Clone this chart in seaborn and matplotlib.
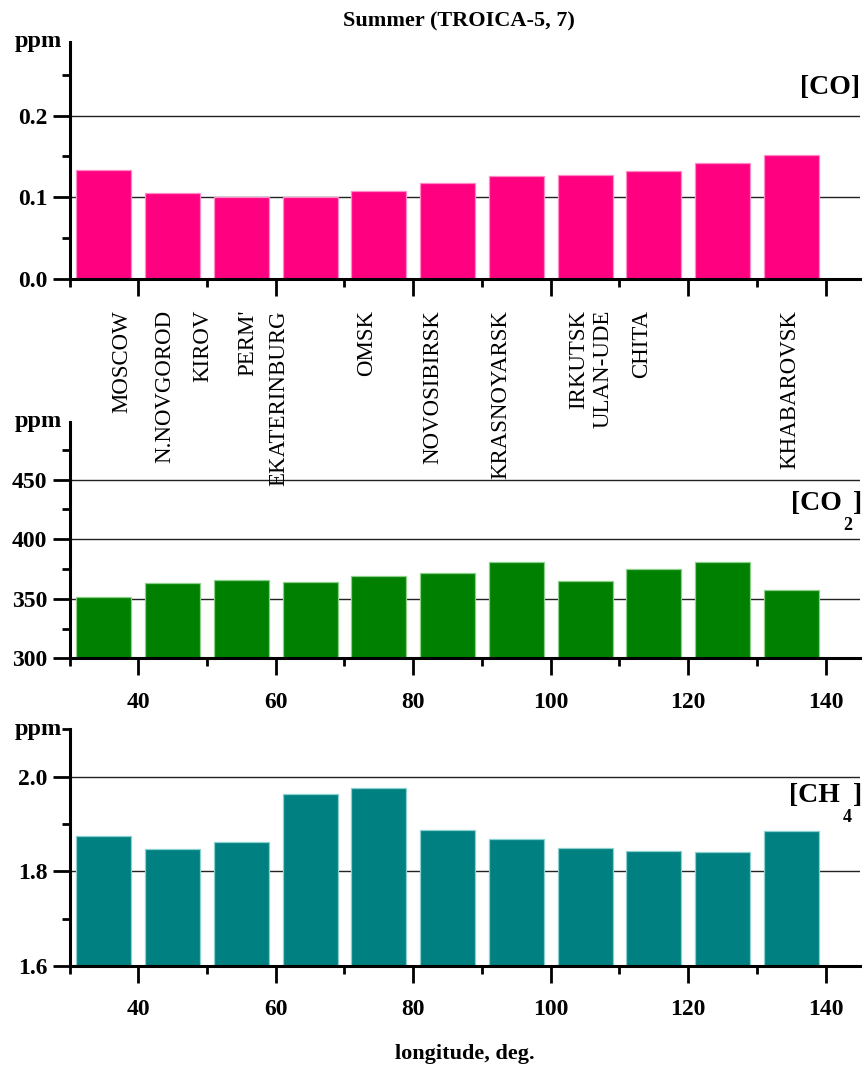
import numpy as np
import pandas as pd
import matplotlib
matplotlib.use("Agg")
import matplotlib.pyplot as plt
import matplotlib.transforms as mtransforms
from matplotlib.ticker import MultipleLocator, NullFormatter, FuncFormatter
import seaborn as sns

# Station longitudes (bar centres) and mean summer concentrations
longitude = [35, 45, 55, 65, 75, 85, 95, 105, 115, 125, 135]
co_ppm = [0.133, 0.105, 0.100, 0.100, 0.108, 0.117, 0.126, 0.127, 0.132, 0.142, 0.152]
co2_ppm = [351.6, 363.4, 365.6, 364.0, 368.7, 371.5, 380.5, 364.8, 374.6, 380.8, 357.5]
ch4_ppm = [1.874, 1.848, 1.862, 1.964, 1.976, 1.888, 1.868, 1.849, 1.842, 1.840, 1.885]

# Cities along the route and their longitudes
cities = ["MOSCOW", "N.NOVGOROD", "KIROV", "PERM'", "EKATERINBURG", "OMSK",
          "NOVOSIBIRSK", "KRASNOYARSK", "IRKUTSK", "ULAN-UDE", "CHITA", "KHABAROVSK"]
city_lon = [37.6, 43.8, 49.4, 56.0, 60.4, 73.2, 82.8, 92.8, 104.1, 107.6, 113.3, 134.8]

df = pd.DataFrame({"lon": longitude, "co": co_ppm, "co2": co2_ppm, "ch4": ch4_ppm})

sns.set_theme(style="white")
plt.rcParams["font.family"] = ["Liberation Serif", "DejaVu Serif"]
plt.rcParams["font.weight"] = "bold"
for key in ("text.color", "axes.labelcolor", "xtick.color", "ytick.color"):
    plt.rcParams[key] = "black"

W, H = 866, 1072
fig = plt.figure(figsize=(W / 100, H / 100), dpi=100)


def px_axes(top, bottom, left=69.5, right=860):
    return fig.add_axes([left / W, 1 - bottom / H, (right - left) / W, (bottom - top) / H])


ax_co = px_axes(42, 279)
ax_co2 = px_axes(421.7, 658.3)
ax_ch4 = px_axes(729.3, 966)
ax_co.set_zorder(3)

panels = [
    (ax_co, "co", "#ff0080", "#ff8cc6", (0.0, 0.29), 0.1, 0.05, "{:.1f}"),
    (ax_co2, "co2", "#008000", "#8cd08c", (300, 498.5), 50, 25, "{:.0f}"),
    (ax_ch4, "ch4", "#008080", "#8cd0d0", (1.6, 2.1001), 0.2, 0.1, "{:.1f}"),
]

for ax, col, fc, ec, ylim, major, minor, fmt in panels:
    sns.barplot(data=df, x="lon", y=col, native_scale=True, width=0.8,
                color=fc, saturation=1, edgecolor=ec, linewidth=0.9,
                errorbar=None, ax=ax, zorder=2)
    ax.set_xlim(30, 145)
    ax.set_ylim(*ylim)
    ax.xaxis.set_major_locator(MultipleLocator(20))
    ax.xaxis.set_minor_locator(MultipleLocator(10))
    ax.yaxis.set_major_locator(MultipleLocator(major))
    ax.yaxis.set_minor_locator(MultipleLocator(minor))
    ax.yaxis.set_major_formatter(FuncFormatter(lambda v, p, f=fmt: f.format(v)))
    ax.set_xlabel("")
    ax.set_ylabel("")
    for s in ("top", "right"):
        ax.spines[s].set_visible(False)
    for s in ("left", "bottom"):
        ax.spines[s].set_linewidth(2.2)
        ax.spines[s].set_color("black")
    ax.tick_params(axis="both", which="both", bottom=True, left=True,
                   top=False, right=False, direction="out", color="black")
    ax.tick_params(axis="both", which="major", length=12, width=2, labelsize=17)
    ax.tick_params(axis="both", which="minor", length=6, width=2)
    ax.tick_params(axis="y", which="major", pad=4)
    ax.tick_params(axis="x", which="major", pad=12)
    ax.set_axisbelow(True)
    ax.grid(axis="y", which="major", color="#222222", linewidth=1.0)
    ax.grid(axis="x", visible=False)
    ax.set_facecolor("white")
    for lab in ax.get_xticklabels() + ax.get_yticklabels():
        lab.set_fontweight("bold")
    ax.text(-0.0095, 1.0, "ppm", transform=ax.transAxes, ha="right", va="center",
            fontsize=17.5, fontweight="bold")

ax_co.xaxis.set_major_formatter(NullFormatter())

# City names hanging below the CO panel
trans = mtransforms.blended_transform_factory(ax_co.transData, ax_co.transAxes)
for name, lon in zip(cities, city_lon):
    ax_co.text(lon, -31 / 237, name, transform=trans, rotation=90,
               ha="center", va="top", fontsize=16.5, fontweight="normal",
               clip_on=False, zorder=5)

# Species labels at the right edge
fig.text(800 / W, 1 - 87 / H, "[CO]", ha="left", va="center", fontsize=20, fontweight="bold")
fig.text(791 / W, 1 - 504 / H, "[CO", ha="left", va="center", fontsize=20, fontweight="bold")
fig.text(843 / W, 1 - 525 / H, "2", ha="left", va="center", fontsize=13, fontweight="bold")
fig.text(853 / W, 1 - 504 / H, "]", ha="left", va="center", fontsize=20, fontweight="bold")
fig.text(789 / W, 1 - 796 / H, "[CH", ha="left", va="center", fontsize=20, fontweight="bold")
fig.text(843 / W, 1 - 817 / H, "4", ha="left", va="center", fontsize=13, fontweight="bold")
fig.text(853 / W, 1 - 796 / H, "]", ha="left", va="center", fontsize=20, fontweight="bold")

fig.text(459 / W, 1 - 21 / H, "Summer (TROICA-5, 7)", ha="center", va="center",
         fontsize=16, fontweight="bold")
fig.text(465 / W, 1 - 1054 / H, "longitude, deg.", ha="center", va="center",
         fontsize=16, fontweight="bold")

fig.savefig("out.png", dpi=100, facecolor="white")
